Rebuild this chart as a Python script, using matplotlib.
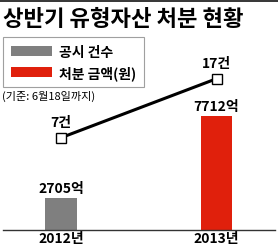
import matplotlib
matplotlib.use("Agg")
import matplotlib.pyplot as plt
from matplotlib.patches import Rectangle, Patch

plt.rcParams['font.family'] = ['Noto Sans CJK KR', 'DejaVu Sans']

years = ["2012년", "2013년"]
amounts = [2705, 7712]          # 처분 금액 (억원)
amount_labels = ["2705억", "7712억"]
counts = [7, 17]                # 공시 건수
count_labels = ["7건", "17건"]
bar_colors = ["#7f7f7f", "#e0200c"]
title = "상반기 유형자산 처분 현황"
note = "(기준: 6월18일까지)"
legend_labels = ["공시 건수", "처분 금액(원)"]

W, H = 278, 251
fig = plt.figure(figsize=(W / 100, H / 100), dpi=100)
fig.patch.set_facecolor("white")

# top dark strip
fig.add_artist(Rectangle((0, 1 - 3 / H), 1, 3 / H, transform=fig.transFigure,
                         color="#3a3a3a", lw=0))

ax_l, ax_r = 3 / W, 275 / W
ax_b, ax_t = 20 / H, 211 / H
ax = fig.add_axes([ax_l, ax_b, ax_r - ax_l, ax_t - ax_b])
x = list(range(len(years)))
ax.bar(x, amounts, width=0.2, color=bar_colors, bottom=0, zorder=2)
ax.set_xlim(-0.373, 1.376)
ax.set_ylim(751, 751 + 191 * 61.06)
for xi, v, lab in zip(x, amounts, amount_labels):
    ax.annotate(lab, (xi, v), xytext=(0, 2), textcoords="offset points",
                ha="center", va="bottom", fontsize=10, fontweight="bold",
                color="black")
ax.set_xticks(x)
ax.set_xticklabels(years, fontsize=10, fontweight="bold")
ax.tick_params(axis="x", length=0, pad=1)
ax.set_yticks([])
for s in ["top", "right", "left"]:
    ax.spines[s].set_visible(False)
ax.spines["bottom"].set_color("#333333")
ax.spines["bottom"].set_linewidth(1.0)

ax2 = ax.twinx()
ax2.plot(x, counts, color="black", lw=2.2, marker="s", markersize=7,
         markerfacecolor="white", markeredgecolor="black", markeredgewidth=1.0,
         zorder=3)
ax2.set_ylim(-8.64, 23.73)
ax2.set_yticks([])
for s in ["top", "right", "left", "bottom"]:
    ax2.spines[s].set_visible(False)
for xi, v, lab in zip(x, counts, count_labels):
    ax2.annotate(lab, (xi, v), xytext=(0, 6), textcoords="offset points",
                 ha="center", va="bottom", fontsize=10, fontweight="bold",
                 color="black")

fig.text(3 / W, 1 - 19 / H, title, fontsize=16, fontweight="black",
         ha="left", va="center", color="black")

handles = [Patch(facecolor=bar_colors[0]), Patch(facecolor=bar_colors[1])]
leg = fig.legend(handles, legend_labels, loc="upper left",
                 bbox_to_anchor=(3 / W, 1 - 38 / H),
                 frameon=True, fancybox=False, handlelength=3.0,
                 handleheight=0.8, handletextpad=0.5, borderpad=0.55,
                 labelspacing=0.45, borderaxespad=0,
                 prop={"weight": "bold", "size": 10})
leg.get_frame().set_edgecolor("#888888")
leg.get_frame().set_linewidth(0.8)

fig.text(2 / W, 1 - 96 / H, note, fontsize=8, ha="left", va="center",
         color="black")

fig.savefig("out.png", dpi=100, facecolor="white")
